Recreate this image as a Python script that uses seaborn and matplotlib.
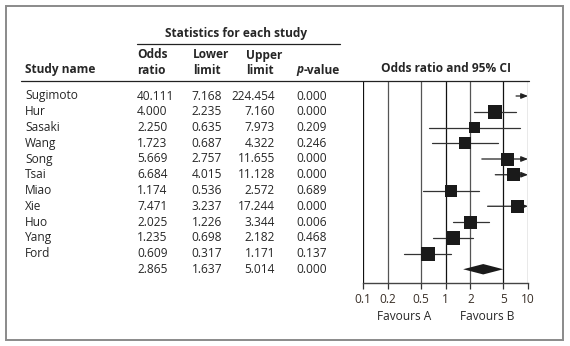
import numpy as np
import pandas as pd
import matplotlib
matplotlib.use("Agg")
import matplotlib.pyplot as plt
import matplotlib.transforms as mtrans
import seaborn as sns

# ---------------- data ----------------
studies = ["Sugimoto", "Hur", "Sasaki", "Wang", "Song", "Tsai", "Miao", "Xie",
           "Huo", "Yang", "Ford"]
odds_ratio = [40.111, 4.000, 2.250, 1.723, 5.669, 6.684, 1.174, 7.471, 2.025, 1.235, 0.609]
lower = [7.168, 2.235, 0.635, 0.687, 2.757, 4.015, 0.536, 3.237, 1.226, 0.698, 0.317]
upper = [224.454, 7.160, 7.973, 4.322, 11.655, 11.128, 2.572, 17.244, 3.344, 2.182, 1.171]
p_value = [0.000, 0.000, 0.209, 0.246, 0.000, 0.000, 0.689, 0.000, 0.006, 0.468, 0.137]
weights = [1, 14, 11, 12, 13, 13, 12, 13, 13, 14, 14]  # relative box size
summary = {"or": 2.865, "lo": 1.637, "hi": 5.014, "p": 0.000}
tick_vals = [0.1, 0.2, 0.5, 1, 2, 5, 10]
tick_labels = ["0.1", "0.2", "0.5", "1", "2", "5", "10"]

# ---------------- figure ----------------
W, H = 570, 346
DPI = 100
sns.set_theme(style="white")
plt.rcParams["font.family"] = ["Open Sans", "DejaVu Sans"]
fig = plt.figure(figsize=(W / DPI, H / DPI), dpi=DPI)

def fx(px):
    return px / W

def fy(py):
    return 1 - py / H

# forest axes: x pixel 363..528, y pixel 81..283
ax = fig.add_axes([fx(363), fy(283), fx(528) - fx(363), (283 - 81) / H])
ax.set_xscale("log")
ax.set_xlim(0.1, 10)
row0, step = 96.0, 15.75
ax.set_ylim((283 - row0) / step, (81 - row0) / step)

TXT = "#262626"
fs = 8.6

# vertical reference lines
for v in tick_vals:
    c = "#111111" if v in (0.1, 1, 5) else "#555555"
    ax.axvline(v, color=c, lw=0.9, zorder=1)

df = pd.DataFrame({"study": studies, "or": odds_ratio, "lo": lower, "hi": upper,
                   "row": np.arange(len(studies)), "w": weights})

# CI lines
for _, r in df.iterrows():
    hi_c = min(r["hi"], 10)
    if r["hi"] > 10:
        ax.annotate("", xy=(10, r["row"]), xytext=(r["lo"], r["row"]),
                    arrowprops=dict(arrowstyle="-|>,head_length=0.5,head_width=0.2",
                                    mutation_scale=8,
                                    color="#222222", lw=0.9, shrinkA=0, shrinkB=0),
                    zorder=2)
    else:
        ax.plot([r["lo"], hi_c], [r["row"], r["row"]], color="#333333", lw=0.9, zorder=2)

# boxes
size_map = {s: (w * 0.72) ** 2 for s, w in zip(studies, weights)}
sns.scatterplot(data=df, x="or", y="row", size="study", sizes=size_map,
                marker="s", color="#1a1a1a", edgecolor="none", linewidth=0,
                legend=False, ax=ax, zorder=3)

# summary diamond
ys = len(studies)
h = 5.2 / step
ax.fill([summary["lo"], summary["or"], summary["hi"], summary["or"]],
        [ys, ys - h, ys, ys + h], color="#1a1a1a", lw=0, zorder=3)

# axes styling
for s in ["top", "right", "left"]:
    ax.spines[s].set_visible(False)
ax.spines["bottom"].set_color("#444444")
ax.spines["bottom"].set_linewidth(1.0)
ax.set_xticks(tick_vals)
ax.set_xticklabels(tick_labels)
ax.xaxis.set_minor_locator(matplotlib.ticker.NullLocator())
ax.tick_params(axis="x", direction="out", length=4, width=0.9, color="#333333",
               labelsize=fs, labelcolor="#3a3028", pad=3, bottom=True)
ax.set_yticks([])
ax.set_xlabel("")
ax.set_ylabel("")
ax.grid(False)
ax.patch.set_alpha(0)

# ---------------- table text ----------------
tr = mtrans.blended_transform_factory(fig.transFigure, ax.transData)

def row_text(px, row, s, ha="left", **kw):
    fig.text(fx(px), row, s, transform=tr, ha=ha, va="center", fontsize=fs,
             color=TXT, clip_on=False, **kw)

for i, r in df.iterrows():
    row_text(25, i, r["study"])
    row_text(137, i, f"{r['or']:.3f}")
    row_text(222, i, f"{r['lo']:.3f}", ha="right")
    row_text(275, i, f"{r['hi']:.3f}", ha="right")
    row_text(296, i, f"{p_value[i]:.3f}")
row_text(137, ys, f"{summary['or']:.3f}")
row_text(222, ys, f"{summary['lo']:.3f}", ha="right")
row_text(275, ys, f"{summary['hi']:.3f}", ha="right")
row_text(296, ys, f"{summary['p']:.3f}")

def head(px, py, s, ha="left", **kw):
    fig.text(fx(px), fy(py), s, ha=ha, va="center", fontsize=fs,
             color=TXT, fontweight="bold", **kw)

head(236, 33, "Statistics for each study", ha="center")
head(25, 70, "Study name")
head(137, 55, "Odds")
head(137, 70, "ratio")
head(193, 55, "Lower")
head(193, 70, "limit")
head(246, 55, "Upper")
head(246, 70, "limit")
fig.text(fx(296), fy(70), "p", ha="left", va="center", fontsize=fs, color=TXT,
         fontweight="bold", style="italic")
head(303.5, 70, "-value")
head(446, 69, "Odds ratio and 95% CI", ha="center")

fig.text(fx(404), fy(316), "Favours A", ha="center", va="center", fontsize=fs, color=TXT)
fig.text(fx(487), fy(316), "Favours B", ha="center", va="center", fontsize=fs, color=TXT)

# rules
fig.add_artist(plt.Line2D([fx(137), fx(340)], [fy(44.3), fy(44.3)], color="#222222", lw=0.9))
fig.add_artist(plt.Line2D([fx(21), fx(529)], [fy(81), fy(81)], color="#222222", lw=0.9))

# outer frame
fig.add_artist(plt.Rectangle((fx(6), fy(339.5)), fx(563) - fx(6), fy(6) - fy(339.5),
                             transform=fig.transFigure, fill=False,
                             edgecolor="#8a8a8a", lw=1.4))

fig.savefig("out.png", dpi=DPI)
